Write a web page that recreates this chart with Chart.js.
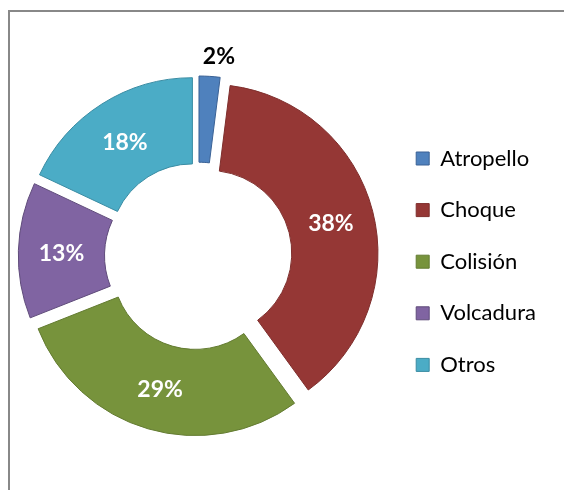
<!DOCTYPE html>
<html>
<head>
<meta charset="utf-8">
<script src="https://cdn.jsdelivr.net/npm/chart.js@4"></script>
<style>
  html, body { margin: 0; padding: 0; background: #ffffff; }
  #wrap { position: relative; width: 564px; height: 490px; overflow: hidden; background: #ffffff; }
  #frame { position: absolute; left: 8px; top: 10px; width: 700px; height: 700px;
           border-left: 2px solid #888888; border-top: 2px solid #888888; box-sizing: border-box; }
  #c { position: absolute; left: 0; top: 0; }
</style>
</head>
<body>
<div id="wrap">
  <div id="frame"></div>
  <canvas id="c" width="564" height="490"></canvas>
</div>
<script>
// ---- data ----
const categories = ['Atropello', 'Choque', 'Colisión', 'Volcadura', 'Otros'];
const values = [2, 38, 29, 13, 18];
const fillColors = ['#4F81BD', '#953735', '#77933C', '#8064A2', '#4BACC6'];
const edgeColors = ['#3A6195', '#7E2E2C', '#637B31', '#5F4B7A', '#3A8CA3'];

// ---- styling constants ----
const EXPLODE = 11;
const LEGEND_FONT = { family: 'Lato', size: 22 };
const LABEL_FONT = 'bold 23px Lato';
const LEGEND_PAD = 29.6;
const BOX = 13;

// measure widest legend text to place the legend column
const mctx = document.createElement('canvas').getContext('2d');
mctx.font = LEGEND_FONT.size + 'px ' + LEGEND_FONT.family;
const tw = Math.max(...categories.map(t => mctx.measureText(t).width));
const legendWidth = LEGEND_PAD + (BOX + LEGEND_FONT.size / 2 + tw) + 10;
const centerX = 198.3;
const padLeft = 10;
const legendLeft = 2 * centerX - padLeft;
const padRight = 564 - legendLeft - legendWidth;

const explodePlugin = {
  id: 'explode',
  afterDatasetUpdate(chart, args) {
    const meta = chart.getDatasetMeta(args.index);
    meta.data.forEach(arc => {
      const mid = (arc.startAngle + arc.endAngle) / 2;
      arc.x += Math.cos(mid) * EXPLODE;
      arc.y += Math.sin(mid) * EXPLODE;
    });
  }
};

const labelPlugin = {
  id: 'sliceLabels',
  afterDatasetsDraw(chart) {
    const ctx = chart.ctx;
    const meta = chart.getDatasetMeta(0);
    const data = chart.data.datasets[0].data;
    ctx.save();
    ctx.font = LABEL_FONT;
    ctx.textBaseline = 'middle';
    meta.data.forEach((arc, i) => {
      const mid = (arc.startAngle + arc.endAngle) / 2;
      const txt = data[i] + '%';
      if (data[i] < 5) {
        const r = arc.outerRadius + 20;
        ctx.fillStyle = '#000000';
        ctx.textAlign = 'left';
        ctx.fillText(txt, arc.x + Math.cos(mid) * r - 8, arc.y + Math.sin(mid) * r);
      } else {
        const r = (arc.innerRadius + arc.outerRadius) / 2;
        ctx.fillStyle = '#ffffff';
        ctx.textAlign = 'center';
        ctx.fillText(txt, arc.x + Math.cos(mid) * r, arc.y + Math.sin(mid) * r + 2);
      }
    });
    ctx.restore();
  }
};

new Chart(document.getElementById('c'), {
  type: 'doughnut',
  data: {
    labels: categories,
    datasets: [{
      data: values,
      backgroundColor: fillColors,
      borderColor: edgeColors,
      borderWidth: 1,
      cutout: '49%'
    }]
  },
  options: {
    responsive: false,
    animation: false,
    events: [],
    layout: { padding: { left: padLeft, right: padRight, top: 86.5, bottom: 64.5 } },
    plugins: {
      tooltip: { enabled: false },
      legend: {
        position: 'right',
        align: 'center',
        title: { display: true, text: '', padding: 0, font: { size: 9.5, lineHeight: 1.2 } },
        labels: {
          boxWidth: BOX,
          boxHeight: BOX,
          padding: LEGEND_PAD,
          color: '#000000',
          font: LEGEND_FONT
        }
      }
    }
  },
  plugins: [explodePlugin, labelPlugin]
});
</script>
</body>
</html>
